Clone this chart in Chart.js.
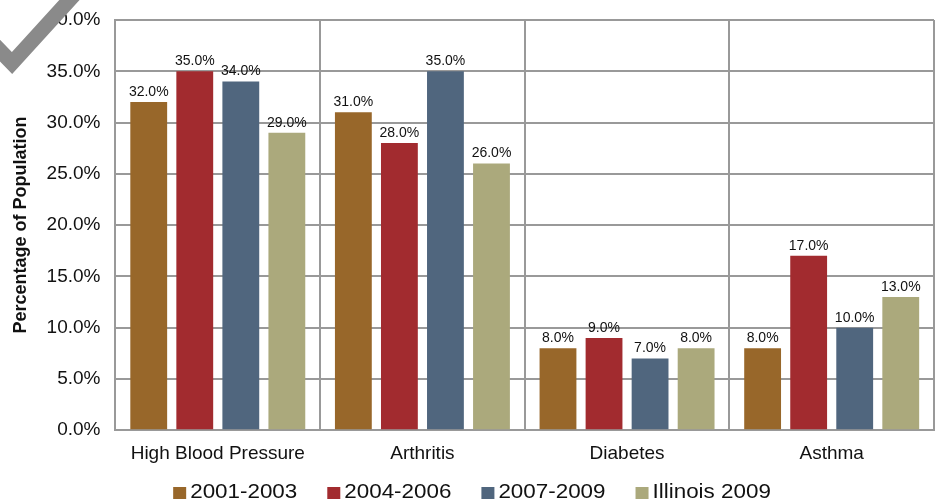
<!DOCTYPE html>
<html>
<head>
<meta charset="utf-8">
<script src="https://cdn.jsdelivr.net/npm/chart.js@4"></script>
<style>
  html, body { margin: 0; padding: 0; background: #fff; }
  #box { width: 940px; height: 504px; }
</style>
</head>
<body>
<div id="box"><canvas id="grafico"></canvas></div>
<script>
const categorias = ['High Blood Pressure', 'Arthritis', 'Diabetes', 'Asthma'];
const serie2001 = [32, 31, 8, 8];
const serie2004 = [35, 28, 9, 17];
const serie2007 = [34, 35, 7, 10];
const serieIllinois = [29, 26, 8, 13];
const nomesSeries = ['2001-2003', '2004-2006', '2007-2009', 'Illinois 2009'];
const cores = ['#98672a', '#a22b2f', '#50667e', '#aba97c'];
const fonte = '"Liberation Sans", Arial, sans-serif';

// rotulos de valor acima de cada barra
const rotulosPlugin = {
    id: 'rotulos',
    afterDatasetsDraw(chart) {
        const ctx = chart.ctx;
        ctx.save();
        ctx.font = '14px ' + fonte;
        ctx.fillStyle = '#111';
        ctx.textAlign = 'center';
        ctx.textBaseline = 'bottom';
        chart.data.datasets.forEach((ds, i) => {
            chart.getDatasetMeta(i).data.forEach((bar, j) => {
                ctx.fillText(ds.data[j].toFixed(1) + '%', bar.x, bar.y - 3);
            });
        });
        ctx.restore();
    }
};

// legenda desenhada a mao, centrada embaixo (texto levemente esticado como no original)
const legendaPlugin = {
    id: 'legendaManual',
    afterDraw(chart) {
        const ctx = chart.ctx;
        const esticar = 1.12, caixa = 13, respiro = 4, vao = 30;
        const yCentro = 492;
        ctx.save();
        ctx.font = '20px ' + fonte;
        const itens = chart.data.datasets.map(ds => ({
            texto: ds.label,
            cor: ds.backgroundColor,
            largura: ctx.measureText(ds.label).width * esticar
        }));
        const total = itens.reduce((s, it) => s + caixa + respiro + it.largura, 0) + vao * (itens.length - 1);
        let x = chart.width / 2 + 2 - total / 2;
        ctx.textBaseline = 'middle';
        itens.forEach(it => {
            ctx.fillStyle = it.cor;
            ctx.fillRect(x, yCentro - 5, caixa, 12);
            x += caixa + respiro;
            ctx.save();
            ctx.translate(x, yCentro);
            ctx.scale(esticar, 1);
            ctx.fillStyle = '#111';
            ctx.fillText(it.texto, 0, 0);
            ctx.restore();
            x += it.largura + vao;
        });
        ctx.restore();
    }
};

// marca cinza no canto superior esquerdo
const marcaPlugin = {
    id: 'marca',
    afterDraw(chart) {
        const ctx = chart.ctx;
        ctx.save();
        ctx.strokeStyle = '#8a8a8a';
        ctx.lineWidth = 15;
        ctx.lineCap = 'butt';
        ctx.beginPath();
        ctx.moveTo(-20, 30);
        ctx.lineTo(12, 63);
        ctx.lineTo(74, -5);
        ctx.stroke();
        ctx.restore();
    }
};

const ctx = document.getElementById('grafico').getContext('2d');
new Chart(ctx, {
    type: 'bar',
    data: {
        labels: categorias,
        datasets: [serie2001, serie2004, serie2007, serieIllinois].map((dados, i) => ({
            label: nomesSeries[i],
            data: dados,
            backgroundColor: cores[i],
            borderWidth: 0,
            barPercentage: 0.8,
            categoryPercentage: 0.9
        }))
    },
    options: {
        responsive: true,
        maintainAspectRatio: false,
        animation: false,
        layout: { padding: { top: 20, right: 6, left: 0, bottom: 27 } },
        plugins: {
            legend: { display: false },
            tooltip: { enabled: false }
        },
        scales: {
            x: {
                grid: { color: '#999', lineWidth: 2, drawTicks: false, offset: true },
                border: { color: '#999', width: 2 },
                ticks: {
                    font: { size: 19, family: fonte },
                    color: '#111',
                    padding: 12
                }
            },
            y: {
                min: 0,
                max: 40,
                grid: { color: '#999', lineWidth: 2, drawTicks: false },
                border: { color: '#999', width: 2 },
                ticks: {
                    stepSize: 5,
                    font: { size: 19, family: fonte },
                    color: '#111',
                    padding: 15,
                    callback: v => v.toFixed(1) + '%'
                },
                title: {
                    display: true,
                    text: 'Percentage of Population',
                    font: { size: 18, weight: 'bold', family: fonte },
                    color: '#111',
                    padding: { top: 10, bottom: 0 }
                },
                afterFit(scale) { scale.paddingTop = 0; }
            }
        }
    },
    plugins: [rotulosPlugin, legendaPlugin, marcaPlugin]
});
</script>
</body>
</html>
